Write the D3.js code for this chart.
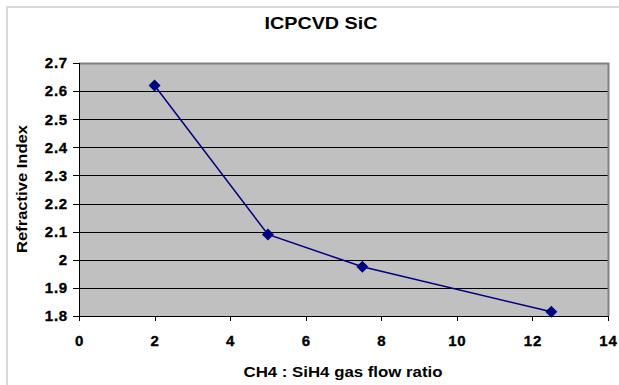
<!DOCTYPE html>
<meta charset="utf-8">
<html>
<head>
<style>
body { margin: 0; background: #fff; }
text { font-family: Arial, "Liberation Sans", sans-serif; font-weight: bold; fill: #000; }
.axis path, .axis line { fill: none; stroke: #000; shape-rendering: crispEdges; }
.axis text { font-family: Arial, "Liberation Sans", sans-serif; font-size: 15px; font-weight: bold; letter-spacing: 0.8px; stroke: #000; stroke-width: 0.35px; }
.grid line { stroke: #000; shape-rendering: crispEdges; }
</style>
<script src="https://d3js.org/d3.v7.min.js"></script>
</head>
<body>
<svg width="619" height="385"></svg>
<script>
// data
var flowRatio = [2, 5, 7.5, 12.5];
var refIndex = [2.62, 2.09, 1.975, 1.815];
var xTicks = [0, 2, 4, 6, 8, 10, 12, 14];
var yTicks = [1.8, 1.9, 2, 2.1, 2.2, 2.3, 2.4, 2.5, 2.6, 2.7];

var svg = d3.select("svg");

// outer chart border
svg.append("rect")
    .attr("x", 7).attr("y", 7)
    .attr("width", 640).attr("height", 400)
    .attr("fill", "none")
    .attr("stroke", "#d9d9d9")
    .attr("stroke-width", 2);

var pLeft = 79, pRight = 608, pTop = 63, pBottom = 316;

var x = d3.scaleLinear().domain([0, 14]).range([pLeft, pRight]);
var y = d3.scaleLinear().domain([1.8, 2.7]).range([pBottom, pTop]);

// plot background
svg.append("rect")
    .attr("x", pLeft).attr("y", pTop)
    .attr("width", pRight - pLeft).attr("height", pBottom - pTop)
    .attr("fill", "#c0c0c0");

// gridlines
svg.append("g").attr("class", "grid")
  .selectAll("line")
  .data(yTicks.slice(1, -1))
  .enter().append("line")
    .attr("x1", pLeft).attr("x2", pRight)
    .attr("y1", function(d) { return Math.round(y(d)) + 0.5; })
    .attr("y2", function(d) { return Math.round(y(d)) + 0.5; });

// frame top/right
svg.append("path")
    .attr("d", "M" + pLeft + "," + (pTop + 0.5) + "H" + (pRight + 0.5) + "V" + pBottom)
    .attr("fill", "none")
    .attr("stroke", "#808080")
    .attr("stroke-width", 2);

svg.append("g")
    .attr("class", "axis")
    .attr("transform", "translate(0," + pBottom + ")")
    .call(d3.axisBottom(x).tickValues(xTicks).tickSize(5).tickSizeOuter(5).tickPadding(14).tickFormat(d3.format("d")));

svg.append("g")
    .attr("class", "axis")
    .attr("transform", "translate(" + pLeft + ",0)")
    .call(d3.axisLeft(y).tickValues(yTicks).tickSize(6).tickSizeOuter(6).tickPadding(5).tickFormat(function(d) { return String(+d.toFixed(1)); }));

svg.selectAll(".axis text").attr("fill", "#000");

var pts = flowRatio.map(function(d, i) { return [d, refIndex[i]]; });

svg.append("path")
    .datum(pts)
    .attr("fill", "none")
    .attr("stroke", "#000080")
    .attr("stroke-width", 1.5)
    .attr("d", d3.line().x(function(d) { return x(d[0]); }).y(function(d) { return y(d[1]); }));

svg.selectAll(".pt")
    .data(pts)
  .enter().append("path")
    .attr("class", "pt")
    .attr("transform", function(d) { return "translate(" + x(d[0]) + "," + y(d[1]) + ")"; })
    .attr("d", "M0,-6L6,0L0,6L-6,0Z")
    .attr("fill", "#000080");

svg.append("text")
    .attr("x", 321).attr("y", 29)
    .attr("text-anchor", "middle")
    .attr("textLength", 113)
    .attr("lengthAdjust", "spacingAndGlyphs")
    .style("font-size", "17px")
    .text("ICPCVD SiC");

svg.append("text")
    .attr("x", 343).attr("y", 377)
    .attr("text-anchor", "middle")
    .attr("textLength", 199)
    .attr("lengthAdjust", "spacingAndGlyphs")
    .style("font-size", "14px")
    .text("CH4 : SiH4 gas flow ratio");

svg.append("text")
    .attr("transform", "translate(27,189) rotate(-90)")
    .attr("text-anchor", "middle")
    .attr("textLength", 128)
    .attr("lengthAdjust", "spacingAndGlyphs")
    .style("font-size", "14px")
    .text("Refractive Index");
</script>
</body>
</html>
